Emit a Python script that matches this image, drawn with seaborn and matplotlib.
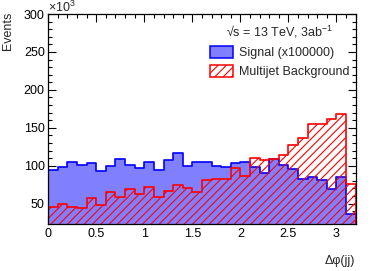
import numpy as np
import pandas as pd
import matplotlib
matplotlib.use("Agg")
import matplotlib.pyplot as plt
import seaborn as sns
from matplotlib.patches import Patch
from matplotlib.ticker import MultipleLocator, FuncFormatter

# bin edges in delta phi, 0.1 wide
edges = [round(0.1 * i, 2) for i in range(33)]
centers = [round(0.1 * i + 0.05, 3) for i in range(32)]

# events (x10^3) per bin, signal scaled by 1e5
signal = [93.8, 97.7, 105.2, 101.2, 103.0, 92.9, 99.5, 108.3, 100.8, 97.3,
          105.2, 93.8, 107.4, 116.2, 99.9, 104.7, 105.2, 99.5, 97.7, 103.0,
          104.2, 97.7, 89.8, 108.3, 100.4, 96.0, 82.3, 85.0, 80.6, 69.6,
          85.4, 35.7]
multijet = [45.0, 49.3, 45.8, 44.0, 57.7, 48.0, 65.6, 59.0, 68.7, 63.0,
            71.4, 58.8, 66.5, 74.8, 70.9, 65.2, 80.5, 82.0, 83.0, 97.5,
            86.0, 110.5, 107.4, 108.3, 113.5, 126.7, 136.8, 154.5, 154.9, 161.0,
            168.1, 75.7]

df = pd.DataFrame({"dphi": centers, "signal": signal, "multijet": multijet})

sns.set_style("ticks")
plt.rcParams["font.family"] = ["Liberation Sans", "DejaVu Sans"]
plt.rcParams["mathtext.fontset"] = "custom"
plt.rcParams["mathtext.rm"] = "Liberation Sans"
plt.rcParams["mathtext.it"] = "Liberation Sans"
plt.rcParams["hatch.linewidth"] = 0.8

fig = plt.figure(figsize=(3.74, 2.71), dpi=100)
ax = fig.add_axes([0.129, 0.172, 0.822, 0.776])

sig_fill = "#8080ff"
sns.histplot(data=df, x="dphi", weights="signal", bins=edges, element="step",
             fill=True, color="#0000ff", facecolor=sig_fill, edgecolor="#0000ff",
             linewidth=1.2, ax=ax)
sns.histplot(data=df, x="dphi", weights="multijet", bins=edges, element="step",
             fill=True, color="#ff0000", facecolor="none", edgecolor="#ff0000",
             hatch="////", linewidth=1.2, ax=ax)

ax.set_xlim(0, 3.2)
ax.set_ylim(22.5, 300)
ax.set_xlabel("")
ax.set_ylabel("")

ax.xaxis.set_major_locator(MultipleLocator(0.5))
ax.xaxis.set_minor_locator(MultipleLocator(0.1))
ax.yaxis.set_major_locator(MultipleLocator(50))
ax.yaxis.set_minor_locator(MultipleLocator(10))
ax.xaxis.set_major_formatter(FuncFormatter(lambda v, p: f"{v:g}"))
ax.yaxis.set_major_formatter(FuncFormatter(lambda v, p: f"{v:g}"))
ax.tick_params(which="both", direction="in", top=True, right=True,
               colors="black", labelsize=9, width=0.8)
ax.tick_params(which="major", length=5.5, pad=2.5)
ax.tick_params(which="minor", length=3)
for s in ax.spines.values():
    s.set_color("black")
    s.set_linewidth(0.9)

handles = [Patch(facecolor=sig_fill, edgecolor="#0000ff", linewidth=1.1),
           Patch(facecolor="white", edgecolor="#ff0000", hatch="////", linewidth=1.1)]
ax.legend(handles, ["Signal (x100000)", "Multijet Background"],
          title="√s = 13 TeV, 3ab$^{-1}$",
          loc="upper left", bbox_to_anchor=(210 / 374, 1 - 24 / 271),
          bbox_transform=fig.transFigure, frameon=False, fontsize=9,
          title_fontsize=9, handlelength=1.85, handleheight=1.1,
          handletextpad=0.45, labelspacing=0.45, borderpad=0, borderaxespad=0)

fig.text(8 / 374, 1 - 12 / 271, "Events", rotation=90, ha="center", va="top", fontsize=9)
fig.text(48 / 374, 1 - 12.5 / 271, r"$\times$10$^{3}$", ha="left", va="baseline", fontsize=9)
fig.text(355 / 374, 1 - 261 / 271, "Δφ(jj)", ha="right", va="center", fontsize=9)

fig.savefig("out.png", dpi=100)
